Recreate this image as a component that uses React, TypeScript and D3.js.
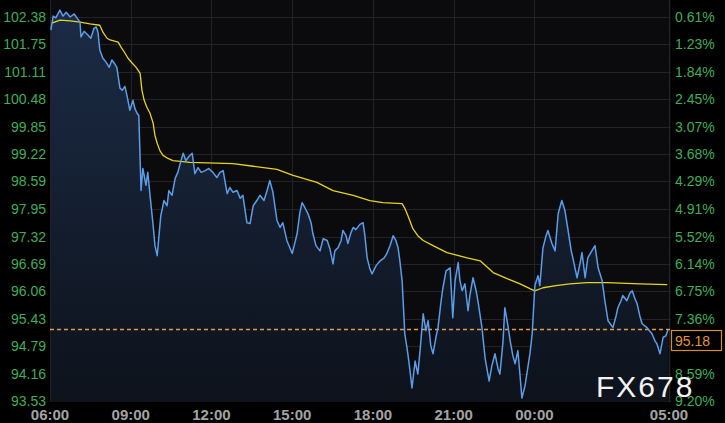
import React, {useEffect, useRef} from 'react';
import * as d3 from 'd3';

// minutes after 06:00 and price
const priceMinutes: number[] = [
  2, 7, 13, 22, 29, 36, 45, 54, 62, 67, 69, 76, 85, 91, 98, 103, 107, 111, 118, 125,
  132, 138, 145, 149, 156, 161, 167, 172, 178, 185, 189, 194, 198, 201, 203, 207, 214, 218, 223, 230,
  234, 239, 243, 247, 254, 261, 265, 272, 279, 285, 292, 297, 303, 310, 317, 323, 330, 337, 346, 354,
  363, 372, 379, 386, 395, 401, 408, 417, 424, 430, 439, 446, 453, 461, 468, 477, 484, 490, 497, 506,
  513, 519, 528, 540, 546, 551, 557, 562, 568, 575, 582, 586, 593, 602, 609, 618, 624, 631, 635, 642,
  649, 653, 660, 664, 671, 676, 682, 691, 698, 702, 707, 713, 718, 727, 736, 745, 751, 758, 765, 771,
  776, 780, 785, 791, 796, 800, 807, 814, 820, 825, 832, 838, 843, 849, 854, 861, 865, 872, 876, 883,
  892, 898, 903, 910, 914, 919, 925, 932, 936, 943, 950, 954, 963, 970, 979, 985, 992, 999, 1003, 1010,
  1014, 1021, 1026, 1032, 1037, 1043, 1048, 1052, 1059, 1063, 1070, 1075, 1081, 1088, 1092, 1099, 1106, 1110, 1119, 1126,
  1133, 1141, 1148, 1155, 1162, 1166, 1175, 1182, 1186, 1193, 1199, 1208, 1215, 1222, 1231, 1237, 1244, 1255, 1262, 1266,
  1273, 1277, 1286, 1293, 1298, 1304, 1309, 1315, 1320, 1331, 1342, 1349, 1353, 1360, 1367, 1373, 1378
];

const priceValues: number[] = [
  102.08, 102.40, 102.36, 102.54, 102.40, 102.49, 102.38, 102.45, 102.33, 102.26, 101.92, 102.05, 101.96, 101.89, 102.12, 102.15, 102.03, 101.62, 101.43, 101.34,
  101.22, 101.39, 101.29, 101.22, 100.74, 100.69, 100.78, 100.55, 100.23, 100.46, 100.28, 100.16, 100.11, 99.07, 98.38, 98.89, 98.50, 98.80, 98.27, 97.57,
  97.11, 96.88, 97.34, 97.80, 98.15, 98.03, 98.38, 98.27, 98.66, 98.80, 99.07, 99.24, 99.07, 99.17, 99.24, 98.77, 98.91, 98.80, 98.84, 98.89,
  98.80, 98.68, 98.80, 98.84, 98.31, 98.45, 98.34, 98.38, 98.20, 98.27, 97.64, 97.62, 98.03, 98.15, 98.27, 98.15, 98.38, 98.61, 98.34, 97.69,
  97.53, 97.64, 97.23, 96.93, 97.18, 97.39, 97.87, 98.10, 97.99, 97.85, 97.64, 97.39, 97.11, 96.99, 97.27, 97.23, 97.04, 96.69, 96.99, 97.06,
  97.23, 97.46, 97.34, 97.16, 97.41, 97.53, 97.48, 97.60, 97.64, 97.34, 96.83, 96.58, 96.46, 96.65, 96.76, 96.83, 96.93, 97.11, 97.34, 97.23,
  97.06, 96.76, 96.30, 95.08, 94.75, 94.45, 93.83, 94.45, 94.15, 94.69, 95.54, 95.15, 95.38, 94.80, 94.62, 95.03, 95.22, 95.84, 96.14, 96.53,
  96.60, 95.45, 96.30, 96.72, 96.30, 96.07, 96.23, 95.61, 95.96, 96.37, 96.07, 95.84, 95.22, 94.52, 93.99, 94.34, 94.62, 94.27, 94.15, 94.91,
  95.68, 95.26, 94.91, 94.57, 94.39, 94.69, 94.11, 93.60, 93.88, 94.15, 94.62, 95.08, 96.19, 96.42, 96.19, 97.06, 97.34, 97.46, 97.16, 96.99,
  97.85, 98.15, 97.92, 97.46, 96.99, 96.81, 96.37, 96.72, 96.95, 96.37, 96.83, 96.99, 97.11, 96.60, 96.30, 95.84, 95.38, 95.22, 95.49, 95.68,
  95.84, 95.96, 95.84, 96.02, 96.07, 95.89, 95.77, 95.49, 95.31, 95.22, 95.08, 94.91, 94.85, 94.62, 95.00, 95.03, 95.18
];

const avgMinutes: number[] = [
  4, 22, 45, 67, 89, 111, 118, 127, 134, 152, 158, 167, 174, 183, 192, 201, 205, 210, 216, 223,
  230, 234, 239, 245, 252, 263, 274, 312, 408, 453, 506, 542, 595, 631, 676, 713, 742, 785, 791, 798,
  809, 820, 832, 854, 885, 930, 959, 988, 1019, 1048, 1070, 1081, 1099, 1128, 1159, 1197, 1242, 1315, 1376
];

const avgValues: number[] = [
  102.24, 102.31, 102.29, 102.26, 102.22, 102.19, 102.03, 101.89, 101.85, 101.80, 101.69, 101.55, 101.43, 101.32, 101.22, 101.08, 100.69, 100.46, 100.30, 100.16,
  99.93, 99.65, 99.47, 99.30, 99.19, 99.12, 99.07, 99.03, 99.00, 98.94, 98.87, 98.73, 98.57, 98.38, 98.27, 98.15, 98.10, 98.08, 97.97, 97.80,
  97.50, 97.34, 97.23, 97.11, 96.95, 96.83, 96.76, 96.49, 96.35, 96.23, 96.12, 96.07, 96.14, 96.19, 96.23, 96.26, 96.26, 96.23, 96.21
];

const priceTicks: number[] = [
  93.53, 94.16, 94.79, 95.43, 96.06, 96.69, 97.32, 97.95, 98.59, 99.22, 99.85, 100.48, 101.11, 101.75, 102.38
];
// the 94.79 label (7.98%) sits under the last-price box
const pctLabels: string[] = [
  '9.20%', '8.59%', '', '7.36%', '6.75%', '6.14%', '5.52%', '4.91%', '4.29%', '3.68%', '3.07%', '2.45%', '1.84%', '1.23%', '0.61%'
];
const timeTicks: number[] = [0, 180, 360, 540, 720, 900, 1080, 1380];
const timeLabels: string[] = ['06:00', '09:00', '12:00', '15:00', '18:00', '21:00', '00:00', '05:00'];
const lastPrice = 95.18;

const W = 725;
const H = 423;
const margin = {top: 17, right: 54, bottom: 21, left: 50};

const App = () => {
  const refObject: any = useRef();

  useEffect(() => {
    document.body.style.margin = '0';
    document.body.style.background = '#000';

    const svg = d3.select(refObject.current);
    svg.selectAll('*').remove();

    const plotRight = W - margin.right;
    const plotBottom = H - margin.bottom;

    const x = d3.scaleLinear().domain([0, 1380]).range([margin.left, 669]);
    const y = d3.scaleLinear().domain([93.53, 102.38]).range([401, margin.top]);

    const font = '"Liberation Sans", Arial, sans-serif';

    svg.append('rect').attr('width', W).attr('height', H).attr('fill', '#000');
    svg.append('rect')
      .attr('x', margin.left).attr('y', 0)
      .attr('width', plotRight - margin.left).attr('height', plotBottom)
      .attr('fill', '#0b0b0d');

    const defs = svg.append('defs');
    const grad = defs.append('linearGradient')
      .attr('id', 'areaFill')
      .attr('gradientUnits', 'userSpaceOnUse')
      .attr('x1', 0).attr('y1', margin.top).attr('x2', 0).attr('y2', plotBottom);
    grad.append('stop').attr('offset', '0%').attr('stop-color', '#1b2b45');
    grad.append('stop').attr('offset', '100%').attr('stop-color', '#0d121b');

    // grid
    svg.append('g').selectAll('line').data(priceTicks).join('line')
      .attr('x1', margin.left).attr('x2', plotRight)
      .attr('y1', d => Math.round(y(d)) + 0.5).attr('y2', d => Math.round(y(d)) + 0.5)
      .attr('stroke', '#232326').attr('stroke-width', 1);
    svg.append('g').selectAll('line').data(timeTicks).join('line')
      .attr('y1', 0).attr('y2', plotBottom)
      .attr('x1', d => Math.round(x(d)) + 0.5).attr('x2', d => Math.round(x(d)) + 0.5)
      .attr('stroke', '#232326').attr('stroke-width', 1);

    const pts = priceMinutes.map((m, i) => [m, priceValues[i]] as [number, number]);
    const avgPts = avgMinutes.map((m, i) => [m, avgValues[i]] as [number, number]);

    const area = d3.area<[number, number]>()
      .x(d => x(d[0]))
      .y0(plotBottom)
      .y1(d => y(d[1]));
    svg.append('path').datum(pts).attr('d', area).attr('fill', 'url(#areaFill)');

    // last price dashed line
    const ly = Math.round(y(lastPrice)) + 0.5;
    svg.append('line')
      .attr('x1', margin.left).attr('x2', plotRight)
      .attr('y1', ly).attr('y2', ly)
      .attr('stroke', '#e09a48').attr('stroke-width', 1.3)
      .attr('stroke-dasharray', '4,3');

    const line = d3.line<[number, number]>()
      .x(d => x(d[0]))
      .y(d => y(d[1]));

    svg.append('path').datum(avgPts)
      .attr('d', line).attr('fill', 'none')
      .attr('stroke', '#e6d41c').attr('stroke-width', 1.3)
      .attr('stroke-linejoin', 'round');

    svg.append('path').datum(pts)
      .attr('d', line).attr('fill', 'none')
      .attr('stroke', '#5b9de8').attr('stroke-width', 1.5)
      .attr('stroke-linejoin', 'round');

    // left axis
    svg.append('g').selectAll('text').data(priceTicks).join('text')
      .attr('x', 46).attr('y', d => y(d) + 5)
      .attr('text-anchor', 'end')
      .attr('font-family', font).attr('font-size', 14)
      .attr('fill', '#3fae58')
      .text(d => d.toFixed(2));

    // right axis
    svg.append('g').selectAll('text').data(priceTicks).join('text')
      .attr('x', 675).attr('y', d => y(d) + 5)
      .attr('font-family', font).attr('font-size', 14)
      .attr('fill', '#3fae58')
      .text((d, i) => pctLabels[i]);

    // last price box, hanging below the dashed line
    svg.append('rect')
      .attr('x', 671.5).attr('y', ly + 1)
      .attr('width', 50).attr('height', 20)
      .attr('fill', '#000').attr('stroke', '#d98a2b').attr('stroke-width', 1.2);
    svg.append('text')
      .attr('x', 675).attr('y', ly + 16)
      .attr('font-family', font).attr('font-size', 14)
      .attr('fill', '#e0963e')
      .text(lastPrice.toFixed(2));

    // bottom axis
    svg.append('g').selectAll('text').data(timeTicks).join('text')
      .attr('x', d => x(d)).attr('y', 420)
      .attr('text-anchor', 'middle')
      .attr('font-family', font).attr('font-size', 15).attr('font-weight', 'bold')
      .attr('fill', '#a3a3a3')
      .text((d, i) => timeLabels[i]);

    // watermark
    svg.append('text')
      .attr('x', 596).attr('y', 397)
      .attr('font-family', font).attr('font-size', 30)
      .attr('letter-spacing', 2)
      .attr('fill', '#f2f2f2')
      .text('FX678');
  }, []);

  return <svg ref={refObject} width={W} height={H} style={{display: 'block'}}/>;
};

export default App;
